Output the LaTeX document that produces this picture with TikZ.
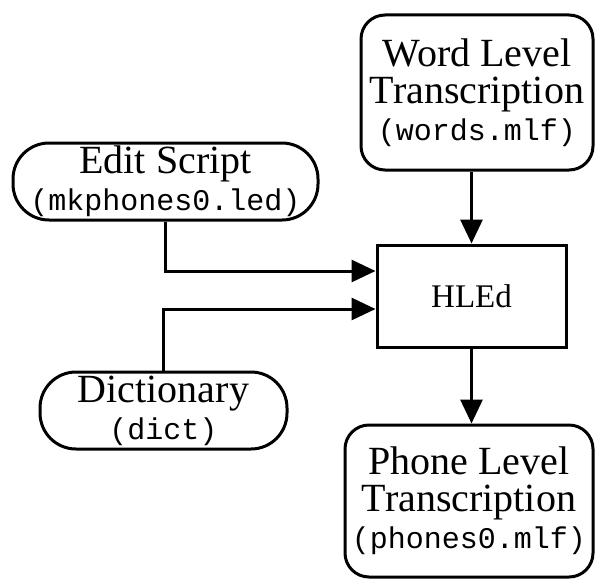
\documentclass[tikz,border=0pt]{standalone}
\usepackage{fontspec}
\setmainfont{Liberation Serif}
\setmonofont{Liberation Mono}
\usetikzlibrary{arrows.meta}
\begin{document}
\begin{tikzpicture}[x=1pt,y=-1pt,
  box/.style={draw, line width=3pt, align=center, inner sep=0pt,
    font=\fontsize{40}{37}\selectfont},
  roundbox/.style={box, rounded corners=24pt},
  pill/.style={box, rounded corners=36pt},
  arr/.style={line width=3pt, -{Triangle[length=24pt,width=22pt]}}]
\newcommand{\fname}[1]{{\ttfamily\fontsize{30}{36}\selectfont #1}}
\useasboundingbox (0,0) rectangle (596,578);
\node[roundbox, minimum width=232pt, minimum height=155pt] (word) at (477,92.5)
  {Word Level\\Transcription\\\fname{(words.mlf)}};
\node[pill, minimum width=305pt, minimum height=77pt] (edit) at (165.5,181.5)
  {Edit Script\\\fname{(mkphones0.led)}};
\node[box, minimum width=189pt, minimum height=102pt, font=\fontsize{33}{36}\selectfont] (hled) at (471.5,296) {HLEd};
\node[pill, minimum width=247pt, minimum height=77pt] (dict) at (163.5,410.5)
  {Dictionary\\\fname{(dict)}};
\node[roundbox, minimum width=248pt, minimum height=152pt] (phone) at (469,501)
  {Phone Level\\Transcription\\\fname{(phones0.mlf)}};
\draw[arr] (hled.north |- word.south) -- (hled.north);
\draw[arr] (edit.south) |- ([yshift=25pt]hled.west);
\draw[arr] (dict.north) |- ([yshift=-13pt]hled.west);
\draw[arr] (hled.south) -- (hled.south |- phone.north);
\end{tikzpicture}
\end{document}
